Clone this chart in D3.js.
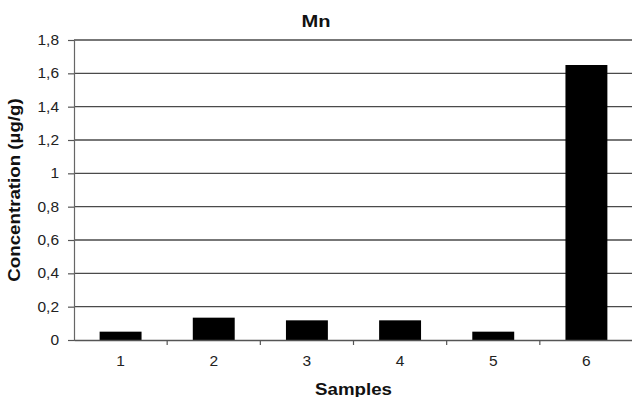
<!DOCTYPE html>
<html>
<head>
<meta charset="utf-8">
<script src="https://cdnjs.cloudflare.com/ajax/libs/d3/7.8.5/d3.min.js"></script>
<style>
  body { margin: 0; background: #fff; }
  svg { display: block; font-family: "Liberation Sans", Arial, sans-serif; }
</style>
</head>
<body>
<div id="chart"></div>
<script>
var samples = ["1", "2", "3", "4", "5", "6"]
var mn = [0.05, 0.134, 0.118, 0.118, 0.05, 1.65]
var yTicks = [0, 0.2, 0.4, 0.6, 0.8, 1, 1.2, 1.4, 1.6, 1.8]

var width = 632
var height = 397
var margin = {top: 40, right: -1, bottom: 57, left: 74}
var font = "Liberation Sans, Arial, sans-serif"
var stretch = 1.17   // the original font runs wider than Arial

var svg = d3.select("#chart")
    .append("svg")
        .attr("width", width)
        .attr("height", height)

var x = d3.scaleBand()
    .domain(samples)
    .range([margin.left, width - margin.right])
    .paddingInner(0.55)
    .paddingOuter(0.275)

var y = d3.scaleLinear()
    .domain([0, 1.8])
    .range([height - margin.bottom, margin.top])

var fmt = function(d){ return String(d).replace(".", ",") }

// gridlines
svg.append("g")
    .selectAll("line")
    .data(yTicks.slice(1))
    .enter()
    .append("line")
        .attr("x1", margin.left)
        .attr("x2", width - margin.right)
        .attr("y1", d => y(d))
        .attr("y2", d => y(d))
        .attr("stroke", "#4a4a4a")
        .attr("stroke-width", 1.3)

// y axis
var yAxis = svg.append("g")
    .attr("transform", "translate(" + margin.left + ",0)")
    .call(d3.axisLeft(y).tickValues(yTicks).tickFormat(fmt).tickSize(6).tickPadding(8))
    .attr("font-family", font)
    .attr("font-size", 14.5)
yAxis.select(".domain").attr("stroke", "#666").attr("stroke-width", 1.2)
yAxis.selectAll(".tick line").attr("stroke", "#555").attr("stroke-width", 1.2)
yAxis.selectAll(".tick text")
    .attr("fill", "#222")
    .attr("transform", "scale(1.07,1)")

// bars
svg.append("g")
    .selectAll("rect")
    .data(mn)
    .enter()
    .append("rect")
        .attr("x", (d, i) => x(samples[i]))
        .attr("y", d => y(d))
        .attr("width", x.bandwidth())
        .attr("height", d => y(0) - y(d))
        .attr("fill", "#000")

// x axis: baseline, category labels, ticks between categories
var xAxis = svg.append("g")
    .attr("transform", "translate(0," + y(0) + ")")
    .call(d3.axisBottom(x).tickSize(0).tickPadding(16))
    .attr("font-family", font)
    .attr("font-size", 14.5)
xAxis.select(".domain").attr("stroke", "#555").attr("stroke-width", 1.3)
xAxis.selectAll(".tick text")
    .attr("fill", "#222")
    .attr("transform", "scale(1.07,1)")

xAxis.append("g")
    .selectAll("line")
    .data(d3.range(1, samples.length))
    .enter()
    .append("line")
        .attr("x1", i => x.range()[0] + i * x.step())
        .attr("x2", i => x.range()[0] + i * x.step())
        .attr("y1", 0)
        .attr("y2", 5)
        .attr("stroke", "#555")
        .attr("stroke-width", 1.2)

// title
svg.append("text")
    .attr("transform", "translate(" + (width / 2) + ",26.5) scale(1.22,1)")
    .attr("text-anchor", "middle")
    .style("font-size", "16.5px")
    .style("font-weight", "bold")
    .attr("fill", "#111")
    .text("Mn")

// axis titles
var plotMidX = (margin.left + width - margin.right) / 2
svg.append("text")
    .attr("transform", "translate(" + plotMidX + ",394.5) scale(" + stretch + ",1)")
    .attr("text-anchor", "middle")
    .style("font-size", "16px")
    .style("font-weight", "bold")
    .attr("fill", "#111")
    .text("Samples")

svg.append("text")
    .attr("transform", "translate(20," + ((y(0) + y(1.8)) / 2) + ") rotate(-90) scale(" + stretch + ",1)")
    .attr("text-anchor", "middle")
    .style("font-size", "16px")
    .style("font-weight", "bold")
    .attr("fill", "#111")
    .text("Concentration (µg/g)")
</script>
</body>
</html>
